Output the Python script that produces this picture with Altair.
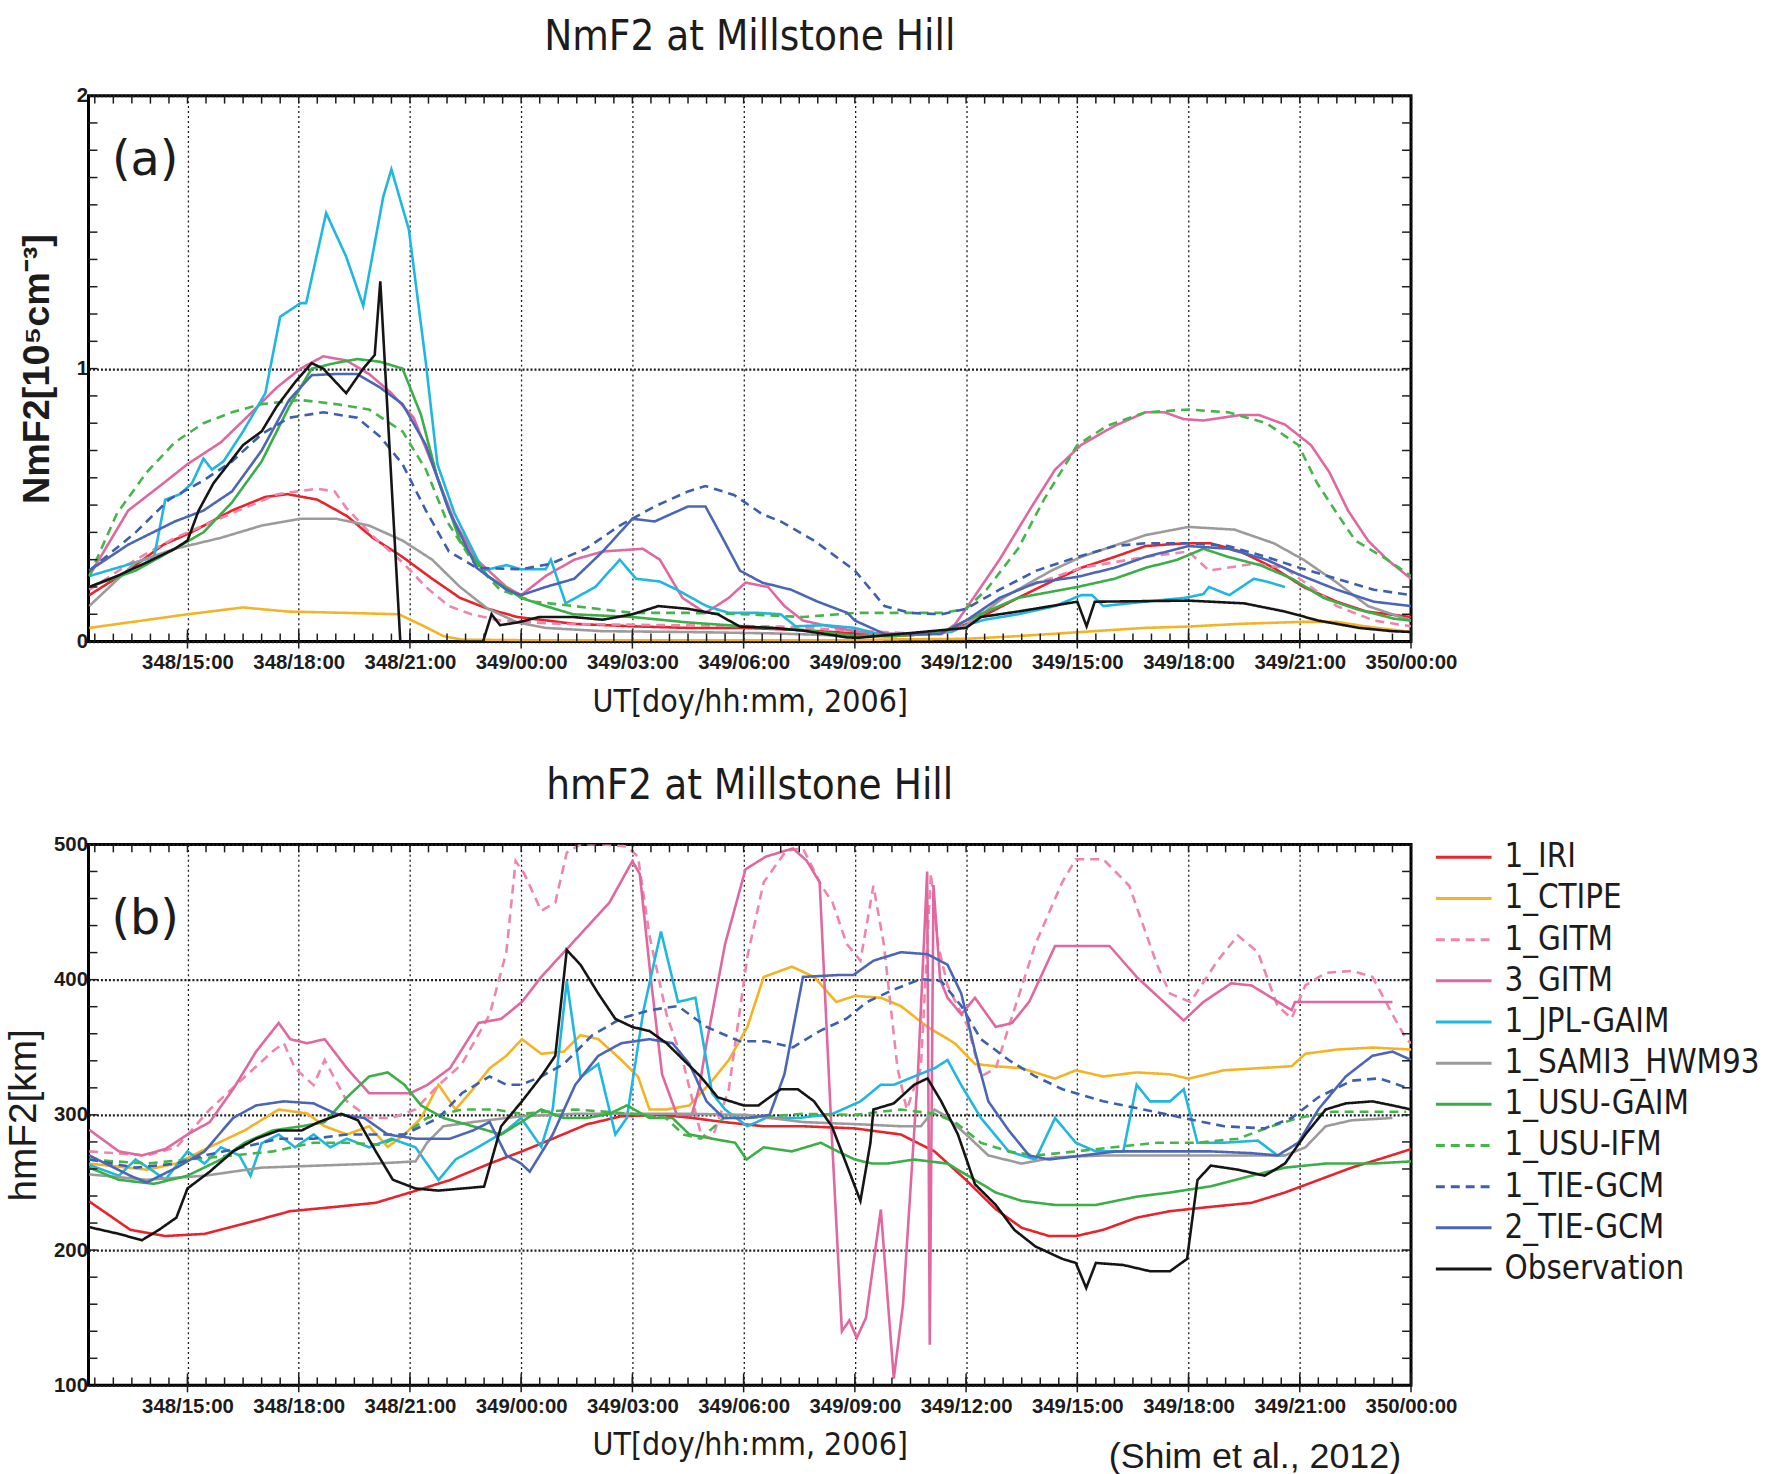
import altair as alt
import pandas as pd

# ---------------------------------------------------------------------------
# Model runs and observation (Millstone Hill, 14-15 Dec 2006)
# Time axis: hours counted from 348/00:00 UT
# ---------------------------------------------------------------------------
SERIES = ["1_IRI", "1_CTIPE", "1_GITM", "3_GITM", "1_JPL-GAIM", "1_SAMI3_HWM93",
          "1_USU-GAIM", "1_USU-IFM", "1_TIE-GCM", "2_TIE-GCM", "Observation"]
COLORS = ["#e8232b", "#f5b324", "#ef85aa", "#e0679f", "#1fb6e0", "#9b9b9b",
          "#3aae47", "#45b54a", "#3c5fae", "#4c66b6", "#151515"]
DASHES = [[1, 0], [1, 0], [9, 6], [1, 0], [1, 0], [1, 0],
          [1, 0], [9, 6], [9, 6], [1, 0], [1, 0]]
WIDTHS = [2.6, 2.6, 2.2, 1.7, 2.6, 2.6, 2.6, 2.6, 2.6, 2.0, 3.2]

X_DOMAIN = [12.33, 48]
X_TICKS = [15, 18, 21, 24, 27, 30, 33, 36, 39, 42, 45, 48]

# ---------------------------- NmF2 [1e5 cm^-3] ----------------------------
NMF2_IRI_T = [12.35, 13.4, 14.35, 15.1, 16.2, 17.1, 17.7, 18.5, 19.3, 20.0, 20.8, 21.6, 22.35,
              23.1, 23.9, 24.7, 25.4, 27.0, 28.5, 30.0, 31.6, 33.0, 34.0, 35.3, 36.0, 36.55,
              37.4, 38.3, 39.1, 40.0, 40.84, 41.9, 42.6, 43.4, 44.3, 45.1, 46.0, 46.8, 48.0]
NMF2_IRI_V = [0.17, 0.26, 0.355, 0.40, 0.48, 0.53, 0.54, 0.52, 0.46, 0.38, 0.31, 0.23, 0.16,
              0.12, 0.09, 0.077, 0.065, 0.056, 0.05, 0.05, 0.042, 0.03, 0.02, 0.03, 0.063, 0.10,
              0.16, 0.22, 0.27, 0.31, 0.35, 0.36, 0.36, 0.33, 0.27, 0.20, 0.146, 0.11, 0.09]

NMF2_CTIPE_T = [12.35, 15.0, 16.5, 17.7, 19.3, 20.7, 21.4, 21.9, 22.4, 24.0, 27.0, 30.0, 33.0,
                34.0, 36.0, 37.4, 39.1, 40.8, 42.0, 43.4, 45.0, 46.0, 46.8, 48.0]
NMF2_CTIPE_V = [0.05, 0.10, 0.125, 0.11, 0.105, 0.10, 0.055, 0.02, 0.007, 0.005, 0.005, 0.005,
                0.005, 0.008, 0.01, 0.02, 0.035, 0.05, 0.055, 0.065, 0.072, 0.072, 0.055, 0.035]

NMF2_GITM1_T = [12.35, 13.6, 14.66, 16.2, 17.43, 18.5, 18.97, 19.28, 20.05, 20.8, 21.43, 22.05,
                22.66, 23.43, 25.0, 28.0, 31.0, 33.0, 34.5, 35.5, 36.0, 36.55, 37.4, 39.1, 40.84,
                42.0, 42.55, 43.76, 44.6, 46.0, 47.0, 48.0]
NMF2_GITM1_V = [0.19, 0.30, 0.38, 0.47, 0.54, 0.56, 0.55, 0.49, 0.38, 0.29, 0.20, 0.13, 0.10,
                0.077, 0.065, 0.06, 0.055, 0.04, 0.03, 0.035, 0.06, 0.13, 0.19, 0.27, 0.31, 0.33,
                0.26, 0.285, 0.27, 0.13, 0.077, 0.056]

NMF2_GITM3_T = [12.35, 13.4, 14.35, 15.0, 15.9, 16.66, 17.4, 18.05, 18.66, 19.28, 19.9, 20.5,
                21.1, 21.6, 22.2, 22.8, 23.6, 24.0, 24.66, 25.43, 26.2, 27.28, 27.74, 28.35,
                28.97, 29.6, 30.05, 30.66, 31.1, 31.6, 32.3, 33.1, 34.0, 35.35, 35.7, 36.2, 36.9,
                37.75, 38.4, 39.1, 40.0, 40.84, 41.35, 41.87, 42.4, 42.9, 43.4, 43.9, 44.6, 45.3,
                45.8, 46.3, 46.84, 47.36, 48.0]
NMF2_GITM3_V = [0.24, 0.48, 0.58, 0.65, 0.73, 0.83, 0.93, 1.00, 1.045, 1.03, 0.98, 0.91, 0.82,
                0.65, 0.44, 0.30, 0.20, 0.17, 0.24, 0.30, 0.33, 0.34, 0.30, 0.16, 0.105, 0.16,
                0.216, 0.20, 0.13, 0.077, 0.056, 0.035, 0.028, 0.028, 0.063, 0.16, 0.30, 0.49,
                0.63, 0.72, 0.79, 0.84, 0.84, 0.815, 0.81, 0.82, 0.83, 0.83, 0.795, 0.72, 0.62,
                0.48, 0.37, 0.30, 0.23]

NMF2_JPL_T = [12.35, 14.1, 14.4, 14.8, 15.12, 15.43, 15.66, 15.97, 16.5, 17.1, 17.5, 18.05,
              18.2, 18.74, 19.28, 19.74, 20.28, 20.5, 20.97, 21.43, 21.74, 22.2, 22.97, 23.6,
              24.0, 24.66, 24.8, 25.2, 26.0, 26.66, 27.1, 27.74, 28.2, 29.0, 29.6, 30.4, 31.0,
              31.4, 32.2, 33.0, 33.8, 34.8, 35.6, 36.0, 36.5, 37.4, 38.4, 39.1, 39.4, 39.7,
              40.8, 41.9, 42.4, 42.55, 43.1, 43.76, 44.1, 44.6]
NMF2_JPL_V = [0.24, 0.31, 0.52, 0.54, 0.58, 0.67, 0.63, 0.66, 0.77, 0.91, 1.19, 1.24, 1.24,
              1.57, 1.41, 1.23, 1.63, 1.73, 1.51, 1.02, 0.65, 0.47, 0.26, 0.28, 0.265, 0.265,
              0.30, 0.14, 0.20, 0.30, 0.23, 0.22, 0.19, 0.13, 0.105, 0.105, 0.10, 0.056, 0.06,
              0.05, 0.02, 0.03, 0.035, 0.06, 0.08, 0.10, 0.13, 0.17, 0.17, 0.13, 0.146, 0.16,
              0.174, 0.20, 0.17, 0.23, 0.22, 0.20]

NMF2_SAMI3_T = [12.35, 13.6, 14.66, 15.9, 17.0, 18.05, 19.0, 19.9, 20.8, 21.6, 22.35, 23.1,
                23.9, 24.66, 26.2, 28.5, 30.8, 33.1, 34.0, 35.3, 36.0, 37.0, 38.3, 39.1, 40.84,
                42.0, 43.24, 44.3, 45.1, 46.0, 46.84, 48.0]
NMF2_SAMI3_V = [0.13, 0.29, 0.34, 0.38, 0.425, 0.45, 0.45, 0.425, 0.37, 0.30, 0.20, 0.12, 0.07,
                0.05, 0.038, 0.035, 0.03, 0.02, 0.028, 0.03, 0.056, 0.16, 0.26, 0.31, 0.39, 0.42,
                0.41, 0.36, 0.30, 0.216, 0.13, 0.077]

NMF2_USUGAIM_T = [12.35, 13.6, 14.66, 15.43, 16.2, 17.0, 17.74, 18.35, 18.97, 19.58, 20.2, 20.8,
                  21.3, 21.74, 22.35, 23.1, 24.0, 24.66, 25.4, 27.0, 28.5, 30.0, 31.6, 33.1,
                  34.0, 35.3, 36.0, 37.4, 39.0, 40.0, 40.84, 41.7, 42.4, 43.07, 43.93, 44.8,
                  45.64, 46.5, 47.53, 48.0]
NMF2_USUGAIM_V = [0.20, 0.26, 0.34, 0.40, 0.51, 0.66, 0.86, 1.00, 1.02, 1.035, 1.025, 1.00,
                  0.83, 0.60, 0.37, 0.24, 0.16, 0.13, 0.10, 0.09, 0.07, 0.056, 0.042, 0.02, 0.02,
                  0.03, 0.077, 0.16, 0.20, 0.23, 0.27, 0.30, 0.34, 0.31, 0.28, 0.23, 0.16, 0.12,
                  0.084, 0.077]

NMF2_USUIFM_T = [12.35, 13.1, 13.9, 14.66, 15.43, 16.2, 17.0, 18.05, 19.0, 19.9, 20.8, 21.43,
                 22.0, 22.66, 23.43, 24.35, 25.43, 27.0, 28.5, 30.0, 31.6, 33.0, 34.0, 35.35,
                 36.0, 36.55, 37.4, 38.1, 39.0, 39.8, 40.84, 42.0, 43.07, 44.1, 44.96, 45.47,
                 46.0, 46.5, 47.36, 48.0]
NMF2_USUIFM_V = [0.24, 0.47, 0.62, 0.73, 0.80, 0.84, 0.87, 0.885, 0.87, 0.85, 0.77, 0.63, 0.44,
                 0.30, 0.19, 0.146, 0.13, 0.105, 0.105, 0.10, 0.09, 0.105, 0.105, 0.105, 0.12,
                 0.19, 0.34, 0.52, 0.72, 0.79, 0.84, 0.85, 0.84, 0.80, 0.72, 0.58, 0.47, 0.37,
                 0.30, 0.24]

NMF2_TIE1_T = [12.35, 13.6, 14.5, 15.43, 16.2, 17.0, 17.74, 18.66, 19.58, 20.2, 20.8, 21.43,
               22.05, 22.8, 24.0, 24.8, 25.74, 26.66, 27.6, 28.5, 28.97, 29.74, 30.5, 31.0, 31.9,
               33.0, 33.8, 34.5, 35.35, 36.0, 36.9, 37.9, 39.0, 40.0, 40.84, 42.0, 43.07, 44.1,
               45.0, 46.0, 47.0, 48.0]
NMF2_TIE1_V = [0.26, 0.40, 0.52, 0.59, 0.66, 0.76, 0.82, 0.84, 0.82, 0.75, 0.65, 0.48, 0.33,
               0.27, 0.265, 0.285, 0.34, 0.425, 0.495, 0.55, 0.57, 0.537, 0.467, 0.44, 0.37,
               0.26, 0.13, 0.105, 0.10, 0.12, 0.19, 0.26, 0.31, 0.35, 0.36, 0.36, 0.35, 0.31,
               0.27, 0.23, 0.19, 0.17]

NMF2_TIE2_T = [12.35, 13.4, 14.66, 15.43, 16.2, 17.0, 17.74, 18.35, 18.97, 19.58, 20.2, 20.8,
               21.43, 22.05, 22.8, 23.6, 24.0, 24.66, 25.43, 26.2, 27.0, 27.6, 28.5, 28.97,
               29.43, 29.9, 30.5, 31.28, 32.0, 32.8, 33.0, 33.8, 35.3, 36.0, 36.9, 37.9, 39.0,
               40.0, 40.84, 42.0, 43.07, 44.1, 45.0, 46.0, 47.0, 48.0]
NMF2_TIE2_V = [0.26, 0.355, 0.44, 0.48, 0.55, 0.70, 0.885, 0.976, 0.98, 0.98, 0.93, 0.87, 0.72,
               0.48, 0.27, 0.19, 0.17, 0.20, 0.23, 0.33, 0.45, 0.44, 0.495, 0.495, 0.38, 0.26,
               0.216, 0.19, 0.146, 0.105, 0.077, 0.028, 0.028, 0.077, 0.16, 0.216, 0.237, 0.27,
               0.31, 0.35, 0.34, 0.30, 0.244, 0.19, 0.146, 0.13]

NMF2_OBS_T = [12.35, 13.1, 13.9, 14.66, 15.0, 15.3, 15.7, 16.5, 17.0, 17.4, 17.9, 18.35, 18.66,
              19.28, 19.74, 20.05, 20.2, 20.74, 22.97, 23.2, 23.43, 23.9, 24.5, 25.4, 26.2, 27.0,
              27.7, 28.5, 29.3, 29.9, 30.8, 31.6, 32.8, 33.1, 34.8, 36.0, 36.4, 37.4, 39.0,
              39.25, 39.47, 42.0, 43.5, 44.6, 45.5, 46.6, 47.5, 48.0]
NMF2_OBS_V = [0.20, 0.24, 0.29, 0.34, 0.37, 0.48, 0.58, 0.72, 0.77, 0.86, 0.95, 1.02, 1.00,
              0.91, 1.00, 1.05, 1.32, 0.0, 0.0, 0.10, 0.06, 0.07, 0.09, 0.09, 0.08, 0.10, 0.13,
              0.12, 0.10, 0.055, 0.05, 0.04, 0.015, 0.014, 0.035, 0.05, 0.09, 0.11, 0.146, 0.056,
              0.146, 0.15, 0.14, 0.11, 0.077, 0.05, 0.038, 0.035]

# ------------------------------- hmF2 [km] --------------------------------
HMF2_IRI_T = [12.35, 13.46, 14.4, 15.46, 16.54, 17.77, 19.0, 20.08, 21.0, 22.08, 23.15, 24.02,
              24.85, 25.77, 26.7, 27.77, 28.54, 29.46, 30.54, 31.6, 33.0, 34.24, 35.15, 36.0,
              36.8, 37.5, 38.24, 38.96, 39.7, 40.6, 41.5, 42.6, 43.7, 44.6, 45.5, 46.4, 47.3, 48.0]
HMF2_IRI_V = [236, 215, 210.4, 212, 219.6, 228.8, 232, 235, 242.6, 251.8, 264, 273, 282.4, 293,
              299, 300, 298, 294.7, 291.6, 291.6, 290, 285.5, 273, 251.8, 230.3, 216.5, 210.4,
              210.4, 215, 224, 228.8, 232, 235, 242.6, 251.8, 261, 268.6, 274.7]

HMF2_CTIPE_T = [12.35, 13.9, 14.7, 15.6, 16.54, 17.46, 18.23, 18.7, 19.3, 19.9, 20.4, 20.85,
                21.3, 21.77, 22.23, 22.7, 23.15, 23.6, 24.02, 24.54, 25.15, 25.6, 26.08, 26.7,
                27.15, 27.46, 27.92, 28.54, 29.15, 29.6, 30.1, 30.54, 31.3, 31.9, 32.5, 33.0,
                33.7, 34.24, 34.96, 35.7, 36.24, 36.8, 37.5, 38.4, 38.96, 39.7, 40.6, 41.5, 42.0,
                42.96, 43.87, 44.78, 45.15, 46.0, 46.96, 48.0]
HMF2_CTIPE_V = [264, 259.5, 264, 276.3, 288.5, 304, 301, 291.6, 285.5, 291.6, 276.3, 285.5,
                297.7, 322.3, 304, 319, 334.5, 343.7, 356, 345.2, 346.8, 359, 356, 340.6, 328.4,
                304, 304, 307, 325.3, 340.6, 365, 402, 409.6, 402, 383.5, 388, 386.6, 380.5, 365,
                352.9, 337.6, 336, 334.5, 326.8, 333, 328.4, 331.4, 330, 326.8, 333, 334.5, 336,
                345.2, 348.3, 349.8, 348.3]

HMF2_GITM1_T = [12.35, 13.9, 14.7, 15.6, 16.54, 17.3, 17.6, 17.9, 18.4, 18.7, 19.3, 19.9, 20.5,
                21.15, 21.77, 22.4, 23.15, 23.6, 23.85, 24.08, 24.54, 24.92, 25.23, 25.6, 26.2,
                26.85, 27.15, 27.46, 27.92, 28.38, 28.85, 29.15, 29.6, 30.1, 30.54, 31.15, 31.6,
                32.1, 32.4, 32.78, 33.15, 33.5, 33.78, 34.15, 34.4, 34.78, 35.05, 35.24, 35.5,
                36.05, 36.4, 36.8, 37.15, 37.87, 38.6, 38.96, 39.7, 40.4, 41.15, 41.5, 42.05,
                42.78, 43.33, 43.87, 44.4, 44.78, 45.15, 45.7, 46.4, 46.96, 47.5, 47.87, 48.0]
HMF2_GITM1_V = [273, 270, 276, 304, 328, 347, 353, 334.5, 322, 340.6, 310, 297.7, 297.7, 304,
                322, 337.6, 374.3, 420.3, 487.7, 478.5, 451, 457, 494, 500, 500, 498.5, 491,
                432.6, 374.3, 337.6, 285.5, 282.4, 319, 417, 472, 495.4, 497, 469.4, 457, 426.4,
                414, 469.4, 426.4, 334.5, 304, 334.5, 478.5, 426.4, 395.7, 365, 328.4, 334.5, 365,
                426.4, 472.4, 489, 489, 469.4, 411, 389.7, 383.5, 414, 432.6, 420.3, 380.5, 371.3,
                395.7, 405, 406.5, 402, 374.3, 356, 353]

HMF2_GITM3_T = [12.35, 13.15, 13.77, 14.4, 15.0, 15.6, 16.23, 16.85, 17.46, 17.77, 18.23, 18.7,
                19.3, 19.9, 20.5, 21.0, 21.46, 22.08, 22.85, 23.46, 24.02, 24.54, 25.46, 26.38,
                27.0, 27.2, 27.5, 27.8, 28.2, 28.6, 28.8, 29.0, 29.5, 30.05, 30.6, 31.33, 31.7,
                32.05, 32.35, 32.65, 32.85, 33.05, 33.3, 33.7, 34.05, 34.3, 34.7, 34.95, 35.02,
                35.12, 35.3, 35.5, 35.87, 36.24, 36.8, 37.24, 37.7, 38.4, 38.96, 39.87, 40.6,
                41.33, 41.87, 42.4, 43.15, 43.7, 44.24, 44.78, 44.87, 45.15, 46.96, 47.5]
HMF2_GITM3_V = [289, 273, 270, 274.7, 285.5, 294.7, 319, 346.8, 368, 356, 353, 356, 334.5, 316,
                316, 316, 322, 334.5, 368, 371, 383.5, 402, 429.5, 457, 487.7, 478, 400, 330, 300,
                300, 320, 353, 426.4, 481.6, 491, 497, 488, 472, 300, 140, 148, 135, 150, 230,
                105, 160, 330, 480, 130, 470, 400, 386.6, 374.3, 386.6, 365, 368, 383.5, 424.9,
                424.9, 424.9, 402, 383.5, 369.8, 383.5, 397.3, 395.7, 386.6, 377.4, 383.5, 383.5,
                383.5, 383.5]

HMF2_JPL_T = [12.35, 13.15, 13.6, 14.1, 14.4, 15.0, 15.46, 15.9, 16.4, 16.7, 17.0, 17.46, 17.9,
              18.4, 18.85, 19.3, 19.9, 20.5, 21.15, 21.77, 22.23, 22.85, 23.6, 24.0, 24.54,
              24.85, 25.23, 25.6, 26.08, 26.54, 26.85, 27.3, 27.77, 28.23, 28.7, 29.15, 29.5,
              30.1, 30.6, 31.5, 32.4, 33.15, 33.7, 34.05, 34.6, 35.15, 35.5, 35.87, 36.4, 37.15,
              37.87, 38.4, 38.96, 39.5, 40.24, 40.6, 40.96, 41.5, 41.87, 42.24, 42.96, 43.87,
              44.4, 44.6]
HMF2_JPL_V = [263, 255, 267, 258, 252, 273, 264, 276, 270, 255, 279, 285.5, 276, 285.5, 276,
              282.4, 276, 282.4, 276, 251.8, 267, 276.3, 288.5, 297.7, 276.3, 304, 399, 328,
              337.6, 285.5, 297.7, 377.4, 435.6, 383.5, 386.6, 316, 304, 291.6, 297.7, 297.7,
              300.8, 310, 322.3, 322.3, 328.4, 334.5, 340.6, 322, 297.7, 273, 267, 297.7, 279.4,
              273, 273, 322.3, 310, 310, 319, 279.4, 279.4, 281, 270, 270]

HMF2_SAMI3_T = [12.35, 13.9, 15.46, 17.0, 18.54, 20.08, 21.15, 21.46, 21.9, 22.7, 24.0, 25.46,
                27.0, 28.54, 30.08, 31.6, 33.15, 34.24, 34.78, 35.15, 35.4, 36.0, 36.6, 37.5,
                38.4, 39.7, 41.5, 43.33, 44.6, 45.15, 45.7, 46.4, 47.5]
HMF2_SAMI3_V = [256, 252, 255, 261, 262.5, 264, 265.6, 279.4, 291.6, 294.7, 299, 300.8, 300.8,
                300.8, 300, 294.7, 293, 291.6, 291.6, 304, 300, 285.5, 270, 264, 268.6, 270, 270,
                270, 270, 276, 291.6, 296, 297.7]

HMF2_USUGAIM_T = [12.35, 13.15, 14.1, 15.0, 15.9, 16.54, 17.3, 18.08, 18.7, 19.3, 19.9, 20.4,
                  20.85, 21.3, 21.9, 22.7, 23.46, 24.0, 24.54, 25.15, 25.77, 26.38, 26.85, 27.46,
                  28.08, 28.54, 29.15, 29.77, 30.08, 30.54, 31.3, 32.08, 32.54, 33.0, 33.46,
                  33.87, 34.6, 35.5, 36.05, 36.8, 37.5, 38.4, 39.5, 40.6, 41.5, 42.6, 43.7, 44.6,
                  45.7, 46.96, 48.0]
HMF2_USUGAIM_V = [261, 252, 249, 255, 267, 279.4, 288.5, 291.6, 294.7, 313, 328.4, 331.4, 322.3,
                  307, 297.7, 291.6, 285.5, 294.7, 304, 297.7, 297.7, 300.8, 307, 297.7, 297.7,
                  285.5, 282.4, 279.4, 267, 276, 273, 279.4, 273, 267, 264, 264, 267, 264, 255,
                  242.6, 236.4, 233.4, 233.4, 239.5, 242.6, 247.2, 255, 261, 264, 264, 265.6]

HMF2_USUIFM_T = [12.35, 13.9, 15.0, 16.23, 17.3, 18.4, 19.3, 20.2, 20.85, 21.46, 22.4, 23.3,
                 24.0, 25.46, 27.0, 27.9, 28.38, 28.85, 29.46, 30.1, 31.6, 33.0, 34.24, 35.15,
                 35.7, 36.4, 37.15, 37.87, 38.96, 40.05, 41.15, 42.24, 43.33, 44.24, 44.96,
                 45.87, 46.96, 47.87]
HMF2_USUIFM_V = [267, 264, 267, 270, 273, 279.4, 279.4, 278, 285.5, 297.7, 304, 304, 300.8, 304,
                 300.8, 297.7, 285.5, 282.4, 297.7, 297.7, 300.8, 300, 304, 300.8, 294.7, 279.4,
                 273, 270, 273, 276.3, 279.4, 279.4, 282.4, 291.6, 297.7, 302.3, 302.3, 302.3]

HMF2_TIE1_T = [12.35, 13.6, 14.7, 15.46, 16.54, 17.46, 18.4, 19.3, 20.23, 20.85, 21.77, 22.4,
               23.15, 23.6, 24.0, 24.54, 25.15, 25.92, 26.7, 27.46, 28.23, 29.0, 29.9, 30.6,
               31.33, 32.05, 32.78, 33.33, 34.05, 34.78, 35.33, 35.87, 36.4, 37.15, 37.87, 38.6,
               39.7, 40.78, 41.87, 42.96, 44.05, 44.78, 45.5, 46.4, 47.15, 48.0]
HMF2_TIE1_V = [267, 261, 264, 270, 276.3, 282.4, 282.4, 285.5, 285.5, 285.5, 297.7, 316, 328.4,
               322.3, 322.3, 328.4, 337.6, 359, 371.3, 377.4, 380.5, 365, 354.4, 354.4, 350, 362,
               371.3, 383.5, 392.7, 400.4, 398.9, 380.5, 356, 340.6, 328.4, 319, 310, 304, 297.7,
               291.6, 290, 297.7, 313, 325.3, 327, 319]

HMF2_TIE2_T = [12.35, 13.46, 13.9, 14.7, 15.46, 16.23, 16.85, 17.6, 18.4, 19.0, 19.77, 20.4,
               21.15, 22.08, 22.7, 23.15, 23.6, 24.0, 24.23, 24.85, 25.46, 26.08, 26.7, 27.46,
               28.08, 28.54, 29.0, 29.46, 30.1, 30.7, 31.1, 31.6, 32.54, 32.96, 33.5, 34.24,
               34.96, 35.5, 35.87, 36.24, 36.6, 37.15, 37.7, 38.24, 39.15, 40.05, 41.5, 42.6,
               43.7, 44.4, 44.96, 45.5, 46.24, 46.96, 47.5, 48.0]
HMF2_TIE2_V = [270, 255, 250, 261, 273, 297.7, 307, 310, 308.5, 300.8, 297.7, 285.5, 282.4,
               282.4, 288.5, 294.7, 270, 264, 258, 285.5, 322.3, 343.7, 353, 356, 353, 337.6,
               310, 297.7, 297.7, 300, 330, 402, 403.4, 403.4, 414, 420.3, 418.8, 411, 389.7,
               347, 310, 288.5, 270, 267, 270, 273, 273, 273, 271.7, 270, 279.4, 304, 328.4,
               343.7, 346.8, 340.6]

HMF2_OBS_T = [12.35, 13.15, 13.77, 14.23, 14.7, 15.0, 15.6, 16.23, 16.85, 17.46, 18.08, 18.54,
              19.15, 19.6, 20.08, 20.54, 21.15, 21.77, 23.0, 23.46, 24.02, 24.54, 24.92, 25.23,
              25.6, 26.08, 26.54, 27.0, 27.46, 27.92, 28.38, 28.85, 29.3, 30.0, 30.4, 31.0,
              31.46, 31.9, 32.38, 32.85, 33.15, 33.42, 33.5, 34.05, 34.6, 34.96, 35.33, 35.78,
              36.24, 36.8, 37.3, 37.87, 38.6, 38.96, 39.24, 39.5, 40.24, 40.96, 41.5, 41.96,
              42.24, 42.6, 43.33, 44.05, 44.6, 45.15, 45.7, 46.24, 46.96, 47.5, 48.0]
HMF2_OBS_V = [217, 212, 207.3, 215, 224, 245.6, 258, 273, 282.4, 288.5, 288.5, 294.7, 300.8,
              296, 273, 252, 245.6, 244, 247, 291.6, 310, 328.4, 343.7, 421.9, 411, 389.7, 371,
              365, 362, 353, 340.6, 328, 313, 307, 307, 319, 319, 310, 291.6, 258, 236.4, 279.4,
              304, 308.5, 322.3, 327, 310, 285.5, 248.7, 233.4, 215, 202.7, 193.5, 190.5, 172,
              190.5, 189, 184.4, 184.4, 193.5, 251.8, 262.5, 259.5, 255, 264, 285.5, 304, 308.5,
              310, 307, 304]

NMF2_RUNS = {
    "1_IRI": (NMF2_IRI_T, NMF2_IRI_V), "1_CTIPE": (NMF2_CTIPE_T, NMF2_CTIPE_V),
    "1_GITM": (NMF2_GITM1_T, NMF2_GITM1_V), "3_GITM": (NMF2_GITM3_T, NMF2_GITM3_V),
    "1_JPL-GAIM": (NMF2_JPL_T, NMF2_JPL_V), "1_SAMI3_HWM93": (NMF2_SAMI3_T, NMF2_SAMI3_V),
    "1_USU-GAIM": (NMF2_USUGAIM_T, NMF2_USUGAIM_V), "1_USU-IFM": (NMF2_USUIFM_T, NMF2_USUIFM_V),
    "1_TIE-GCM": (NMF2_TIE1_T, NMF2_TIE1_V), "2_TIE-GCM": (NMF2_TIE2_T, NMF2_TIE2_V),
    "Observation": (NMF2_OBS_T, NMF2_OBS_V),
}
HMF2_RUNS = {
    "1_IRI": (HMF2_IRI_T, HMF2_IRI_V), "1_CTIPE": (HMF2_CTIPE_T, HMF2_CTIPE_V),
    "1_GITM": (HMF2_GITM1_T, HMF2_GITM1_V), "3_GITM": (HMF2_GITM3_T, HMF2_GITM3_V),
    "1_JPL-GAIM": (HMF2_JPL_T, HMF2_JPL_V), "1_SAMI3_HWM93": (HMF2_SAMI3_T, HMF2_SAMI3_V),
    "1_USU-GAIM": (HMF2_USUGAIM_T, HMF2_USUGAIM_V), "1_USU-IFM": (HMF2_USUIFM_T, HMF2_USUIFM_V),
    "1_TIE-GCM": (HMF2_TIE1_T, HMF2_TIE1_V), "2_TIE-GCM": (HMF2_TIE2_T, HMF2_TIE2_V),
    "Observation": (HMF2_OBS_T, HMF2_OBS_V),
}


def long_table(runs):
    rows = []
    for name, (ts, vs) in runs.items():
        assert len(ts) == len(vs), name
        rows += [{"series": name, "t": t, "value": v} for t, v in zip(ts, vs)]
    return pd.DataFrame(rows)


# ---------------------------- layout & styling ----------------------------
W = 1330
H_TOP = 549
H_BOT = 544
NARROW = "'DejaVu Sans Condensed', 'Liberation Sans Narrow', 'Liberation Sans', sans-serif"
SANS = "'Liberation Sans', Arial, sans-serif"
INK = "#1c1c1c"

LABEL_EXPR = ("(348 + floor(datum.value / 24)) + '/' + "
              "(datum.value % 24 < 10 ? '0' : '') + (datum.value % 24) + ':00'")

color_enc = alt.Color("series:N", scale=alt.Scale(domain=SERIES, range=COLORS), legend=None)
dash_enc = alt.StrokeDash("series:N", scale=alt.Scale(domain=SERIES, range=DASHES), legend=None)
width_enc = alt.StrokeWidth("series:N", scale=alt.Scale(domain=SERIES, range=WIDTHS), legend=None)

x_scale = alt.Scale(domain=X_DOMAIN, nice=False, zero=False)

X_AXIS = alt.Axis(values=X_TICKS, labelExpr=LABEL_EXPR, title="UT[doy/hh:mm, 2006]",
                  grid=True, gridColor=INK, gridDash=[2, 3], gridWidth=1.3, gridOpacity=1,
                  domain=False, ticks=False, tickSize=0, labelPadding=11,
                  labelFont=SANS, labelFontSize=20.5, labelFontWeight="bold", labelColor=INK,
                  labelFlush=False, labelOverlap=False,
                  titleFont=NARROW, titleFontSize=32, titleFontWeight="normal",
                  titleColor=INK, titleX=W / 2, titleY=60, titleBaseline="middle",
                  titleAlign="center")


def y_axis(values, title, title_x, height, weight, size):
    return alt.Axis(values=values, title=title, labelExpr="'' + round(datum.value)",
                    grid=True, gridColor=INK, gridDash=[2, 2], gridWidth=2.2, gridOpacity=1,
                    domain=False, ticks=False, tickSize=0, labelPadding=1, labelFont=SANS,
                    labelFontSize=20.5, labelFontWeight="bold", labelColor=INK,
                    labelFlush=False, labelOverlap=False, titleFont=SANS, titleFontSize=size,
                    titleFontWeight=weight, titleColor=INK, titleAngle=270, titleX=title_x,
                    titleY=height / 2, titleBaseline="middle", titleAlign="center")


def tick_layers(h, y_scale, y_ax, y_start, y_stop, y_step):
    rule = dict(color=INK, strokeWidth=1.5)
    xt = alt.X("t:Q", scale=x_scale, axis=X_AXIS)
    yt = alt.Y("value:Q", scale=y_scale, axis=y_ax)
    minor_x = alt.sequence(12.5, 48, 0.5, as_="t")
    major_x = alt.sequence(15, 48.5, 3, as_="t")
    minor_y = alt.sequence(y_start, y_stop, y_step, as_="value")
    return [
        alt.Chart(minor_x).mark_rule(**rule).encode(x=xt, y=alt.value(h), y2=alt.value(h - 8)),
        alt.Chart(minor_x).mark_rule(**rule).encode(x=xt, y=alt.value(0), y2=alt.value(8)),
        alt.Chart(major_x).mark_rule(**rule).encode(x=xt, y=alt.value(h + 7), y2=alt.value(h - 12)),
        alt.Chart(minor_y).mark_rule(**rule).encode(y=yt, x=alt.value(0), x2=alt.value(9)),
        alt.Chart(minor_y).mark_rule(**rule).encode(y=yt, x=alt.value(W), x2=alt.value(W - 9)),
    ]


def text_layer(text, x, y, font, size, weight="normal", align="center"):
    return alt.Chart(pd.DataFrame({"label": [text]})).mark_text(
        font=font, fontSize=size, fontWeight=weight, color=INK, align=align, baseline="middle"
    ).encode(x=alt.value(x), y=alt.value(y), text="label:N")


def panel(runs, h, y_domain, y_values, y_title, title_x, title_weight, title_size,
          minor, heading, tag, tag_y):
    df = long_table(runs)
    y_scale = alt.Scale(domain=y_domain, nice=False, zero=False)
    y_ax = y_axis(y_values, y_title, title_x, h, title_weight, title_size)
    xe = alt.X("t:Q", scale=x_scale, axis=X_AXIS)
    ye = alt.Y("value:Q", scale=y_scale, axis=y_ax)
    models = alt.Chart(df[df.series != "Observation"]).mark_line(clip=True).encode(
        x=xe, y=ye, color=color_enc, strokeDash=dash_enc, strokeWidth=width_enc,
        detail="series:N",
    )
    obs = alt.Chart(df[df.series == "Observation"]).mark_line(clip=True).encode(
        x=xe, y=ye, color=color_enc, strokeDash=dash_enc, strokeWidth=width_enc,
    )
    layers = [models, obs] + tick_layers(h, y_scale, y_ax, *minor)
    layers.append(text_layer(heading, W / 2, -59, NARROW, 42))
    layers.append(text_layer(tag, 57, tag_y, "DejaVu Sans", 48))
    return layers


top_layers = panel(NMF2_RUNS, H_TOP, [0, 2], [0, 1, 2], "NmF2[10\u2075cm\u207b\u00b3]",
                   -51, "bold", 38, (0.1, 2.0, 0.1), "NmF2 at Millstone Hill", "(a)", 66)
top = alt.layer(*top_layers).properties(width=W, height=H_TOP)

bot_layers = panel(HMF2_RUNS, H_BOT, [100, 500], [100, 200, 300, 400, 500], "hmF2[km]",
                   -65, "normal", 39, (120, 500, 20), "hmF2 at Millstone Hill", "(b)", 76)

# legend drawn beside the lower panel
legend_df = pd.DataFrame({"series": SERIES, "row": list(range(len(SERIES)))})
legend_base = alt.Chart(legend_df).transform_calculate(ly="13 + datum.row * 41.4")
legend_lines = legend_base.mark_rule().encode(
    x=alt.value(1355), x2=alt.value(1411),
    y=alt.Y("ly:Q", scale=None),
    color=color_enc, strokeDash=dash_enc,
    strokeWidth=alt.value(3),
)
legend_text = legend_base.mark_text(
    font=NARROW, fontSize=33, color=INK, align="left", baseline="middle"
).encode(x=alt.value(1424), y=alt.Y("ly:Q", scale=None), text="series:N")

bot_layers += [legend_lines, legend_text,
               text_layer("(Shim et al., 2012)", 1173, 616, SANS, 36)]
bottom = alt.layer(*bot_layers).properties(width=W, height=H_BOT)

chart = alt.vconcat(top, bottom, spacing=204, bounds="flush").properties(
    padding={"left": 3, "top": 10, "right": 4, "bottom": 2}
).configure(background="white").configure_view(stroke="black", strokeWidth=3)

chart.save("out.html", embed_options={"renderer": "svg", "actions": False})
